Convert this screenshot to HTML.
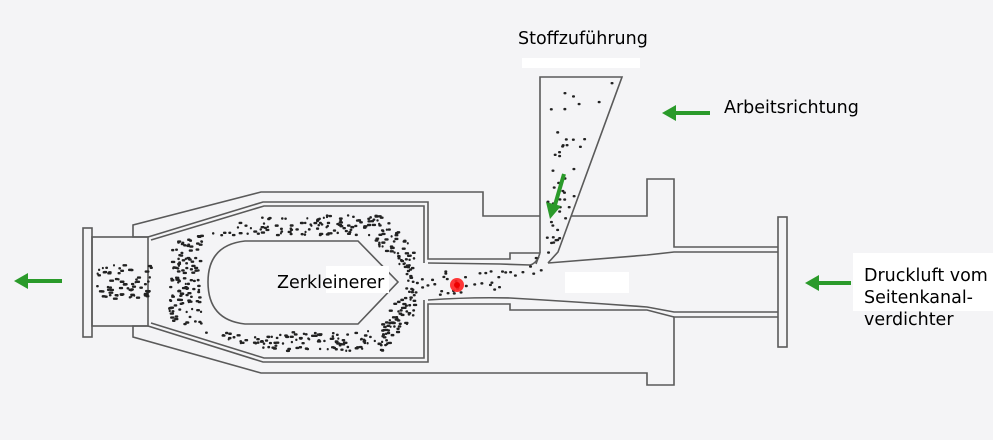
<!DOCTYPE html>
<html><head><meta charset="utf-8"><style>
html,body{margin:0;padding:0;background:#f4f4f6;}
svg{display:block;}
text{font-family:"DejaVu Sans","Liberation Sans",sans-serif;font-size:17.5px;fill:#000;}
</style></head><body>
<svg id="s" width="993" height="440" viewBox="0 0 993 440" xmlns="http://www.w3.org/2000/svg">
<rect width="993" height="440" fill="#f4f4f6"/>
<g fill="none" stroke="#5a5a5a" stroke-width="1.6">
<rect x="83" y="228" width="9" height="109"/>
<rect x="92" y="237" width="56" height="89"/>
<path d="M148,237 L133,237 L133,225 L261,192 L483,192 L483,216 L540,216"/>
<path d="M571,216 L647,216 L647,179 L674,179 L674,247 L778,247"/>
<path d="M148,326 L133,326 L133,337 L261,373 L647,373 L647,385 L674,385 L674,317 L778,317"/>
<path d="M148,237 L263,202 L428,202 L428,259 L510,259 L510,253 L540,253"/>
<path d="M151,240 L264,206 L424,206 L424,263"/>
<path d="M148,326 L263,362 L428,362 L428,304 L510,304 L510,310 L647,310 L674,317"/>
<path d="M151,323 L264,358 L424,358 L424,300"/>
<path d="M428,263 L500,264 L530,265 Q535,264 539,257"/>
<path d="M548,263 L647,255 L674,252 L778,252"/>
<path d="M428,300 Q470,297 510,298 Q580,302 647,307 L674,312 L778,312"/>
<rect x="778" y="217" width="9" height="130"/>
<path d="M540,253 L540,77 L622,77 L558,252 L548,263"/>
<path d="M540,253 L536,264"/>
<path d="M358,241 L245,241 Q208,245 208,282 Q208,320 245,324 L358,324 L398,282 Z"/>
</g>
<rect x="522" y="58" width="118" height="10" fill="#fff"/>
<rect x="565" y="272" width="64" height="21" fill="#fff"/>
<rect x="853" y="253" width="140" height="58" fill="#fff"/>
<rect x="326" y="266" width="63" height="27" fill="#fff"/>
<g id="dots" fill="#222"></g>
<circle cx="457" cy="285" r="7" fill="#f22" opacity="0.9"/>
<circle cx="457" cy="285" r="3" fill="#e00"/>
<g fill="#2a9a2a" stroke="#2a9a2a">
<line x1="62" y1="281" x2="26" y2="281" stroke-width="4"/><polygon points="14,281 28,273 28,289" stroke="none"/>
<line x1="710" y1="113" x2="674" y2="113" stroke-width="4"/><polygon points="662,113 676,105 676,121" stroke="none"/>
<line x1="851" y1="283" x2="817" y2="283" stroke-width="4"/><polygon points="805,283 819,275 819,291" stroke="none"/>
<line x1="564" y1="174" x2="555" y2="205" stroke-width="4"/><polygon points="550,219 546,202 561,206" stroke="none"/>
</g>
<text x="518" y="44">Stoffzuführung</text>
<text x="724" y="113">Arbeitsrichtung</text>
<text x="277" y="288">Zerkleinerer</text>
<text x="864" y="281">Druckluft vom</text>
<text x="864" y="303">Seitenkanal-</text>
<text x="864" y="325">verdichter</text>
</svg>
<script>
(function(){
var g=document.getElementById('dots');var seed=7;
function r(){seed=(seed*16807)%2147483647;return seed/2147483647;}
function dot(x,y,w){var e=document.createElementNS('http://www.w3.org/2000/svg','rect');
e.setAttribute('x',x);e.setAttribute('y',y);e.setAttribute('width',w||3);e.setAttribute('height',2.4);e.setAttribute('rx',1);g.appendChild(e);}
var i,x,y,n;
for(i=0;i<45;i++){y=82+r()*170;var xl=545,xr=622-(y-77)*(64/175)-4;x=xl+r()*(xr-xl);if(x>xl&&x<xr)dot(x,y);}
for(i=0;i<70;i++){dot(96+r()*54,264+r()*34,2+r()*3);}
n=0;
for(i=0;i<20000&&n<470;i++){
 x=158+r()*255;y=210+r()*145;
 var yt=Math.max(240-(x-151)*(34/113),206), yb=Math.min(323+(x-151)*(35/113),358);
 if(y<yt+8||y>yb-8)continue;
 var inCone=(x>201&&x<362&&y>234&&y<331)||(x>=355&&x<407&&Math.abs(y-282)<(407-x)*1.05+6);
 if(inCone)continue;
 // keep close to cone
 var far;
 if(x<208) far=(208-x)>40 || (x<185&&Math.abs(y-282)>25+(x-158));
 else if(x<360) far=(y<241-30||y>324+30);
 else far=Math.abs(y-282)>(412-x)*1.05+35;
 if(far)continue;
 dot(x,y,2+r()*2.5);n++;
}
for(i=0;i<45;i++){x=405+r()*135;y=270+r()*24;if(x>515)y-=(x-515)*0.7;dot(x,y);}
})();
</script>
</body></html>
